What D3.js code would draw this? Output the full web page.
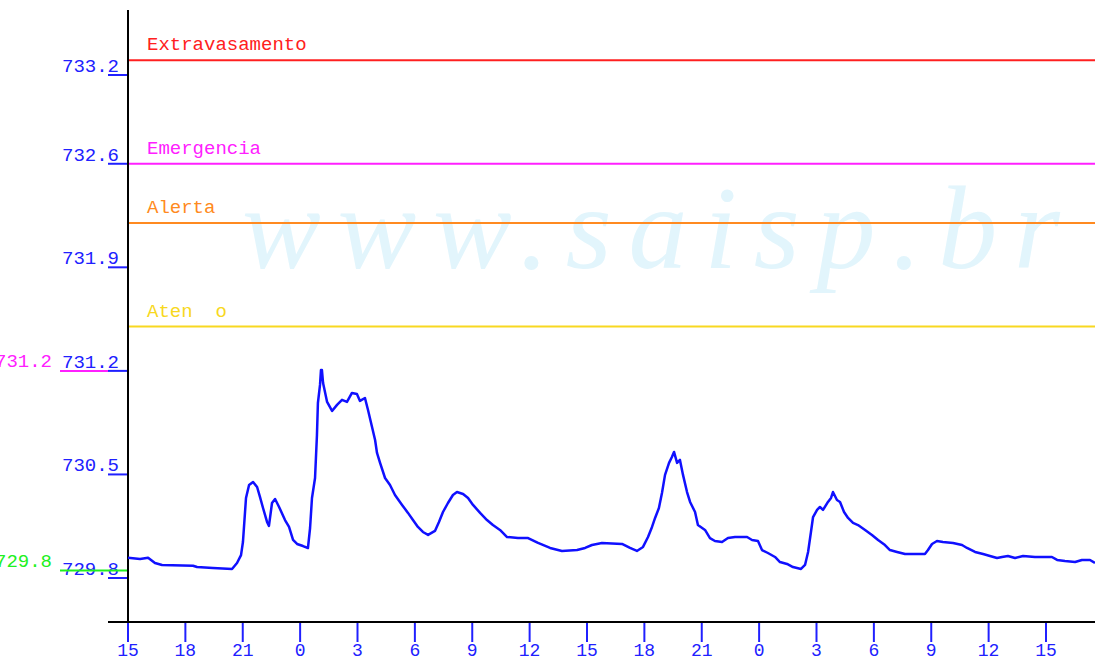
<!DOCTYPE html>
<html>
<head>
<meta charset="utf-8">
<script src="https://cdn.jsdelivr.net/npm/d3@7"></script>
<style>
  html, body { margin: 0; padding: 0; background: #fff; overflow: hidden; }
  text { font-family: "Liberation Mono", "DejaVu Sans Mono", monospace; }
</style>
</head>
<body>
<div id="chart"></div>
<script>
// hours since 15:00 of the first day, and water level (m)
const hours = [0, 0.63, 1.05, 1.41, 1.78, 3.40, 3.61, 4.44, 5.44, 5.70, 5.91, 6.01, 6.17, 6.33, 6.54, 6.75, 6.90, 7.06, 7.27, 7.37,
  7.53, 7.69, 7.90, 8.21, 8.42, 8.63, 8.84, 9.15, 9.41, 9.52, 9.62, 9.78, 9.88, 9.93, 10.04, 10.09, 10.14, 10.20, 10.41, 10.67,
  10.93, 11.19, 11.45, 11.71, 11.97, 12.13, 12.39, 12.55, 12.76, 12.92, 13.02, 13.18, 13.44, 13.70, 13.96, 14.33, 14.64, 14.90, 15.16, 15.42,
  15.69, 16.05, 16.26, 16.47, 16.73, 16.99, 17.20, 17.52, 17.78, 18.04, 18.41, 18.77, 19.08, 19.45, 19.82, 20.39, 20.92, 21.44, 22.07, 22.69,
  23.48, 23.90, 24.26, 24.78, 25.83, 26.25, 26.61, 26.93, 27.19, 27.40, 27.56, 27.76, 27.92, 28.08, 28.29, 28.44, 28.55, 28.71, 28.86, 29.02,
  29.23, 29.39, 29.65, 29.80, 30.17, 30.43, 30.69, 31.06, 31.37, 31.74, 32.37, 32.63, 32.94, 33.15, 33.46, 33.83, 34.09, 34.46, 34.77, 35.19,
  35.40, 35.56, 35.71, 35.82, 36.03, 36.18, 36.34, 36.60, 36.76, 36.86, 37.07, 37.23, 37.44, 37.65, 37.91, 38.17, 38.54, 38.90, 39.22, 39.58,
  39.84, 40.21, 40.63, 41.67, 41.83, 42.04, 42.30, 42.61, 43.14, 43.61, 43.87, 44.29, 44.71, 45.07, 45.44, 45.70, 46.01, 46.38, 46.80, 47.42,
  48.31, 48.58, 48.99, 49.52, 49.88, 50.30, 50.56];
const level = [729.937, 729.928, 729.937, 729.901, 729.888, 729.883, 729.874, 729.868, 729.861, 729.901, 729.955, 730.043, 730.341, 730.429, 730.449, 730.415, 730.348, 730.273, 730.179, 730.152,
  730.307, 730.334, 730.280, 730.192, 730.145, 730.057, 730.030, 730.016, 730.003, 730.138, 730.341, 730.476, 730.767, 730.983, 731.105, 731.206, 731.206, 731.118, 730.990, 730.929,
  730.970, 731.004, 730.990, 731.051, 731.044, 730.997, 731.017, 730.936, 730.821, 730.733, 730.645, 730.578, 730.476, 730.429, 730.361, 730.294, 730.240, 730.192, 730.145, 730.111,
  730.091, 730.118, 730.179, 730.246, 730.307, 730.361, 730.381, 730.368, 730.341, 730.294, 730.240, 730.192, 730.158, 730.125, 730.077, 730.070, 730.070, 730.037, 730.003, 729.983,
  729.989, 730.003, 730.023, 730.037, 730.030, 730.003, 729.983, 730.010, 730.077, 730.145, 730.206, 730.273, 730.375, 730.497, 730.578, 730.618, 730.652, 730.578, 730.598, 730.497,
  730.381, 730.314, 730.246, 730.158, 730.125, 730.070, 730.050, 730.043, 730.070, 730.077, 730.077, 730.057, 730.050, 729.989, 729.969, 729.942, 729.908, 729.895, 729.874, 729.861,
  729.888, 729.976, 730.111, 730.212, 730.260, 730.280, 730.260, 730.314, 730.341, 730.381, 730.327, 730.314, 730.246, 730.206, 730.172, 730.158, 730.125, 730.091, 730.057, 730.023,
  729.989, 729.976, 729.962, 729.962, 729.989, 730.030, 730.050, 730.043, 730.037, 730.023, 730.003, 729.976, 729.962, 729.949, 729.935, 729.942, 729.949, 729.935, 729.949, 729.942,
  729.942, 729.922, 729.915, 729.908, 729.922, 729.922, 729.901];

const xTickHours = [0, 3, 6, 9, 12, 15, 18, 21, 24, 27, 30, 33, 36, 39, 42, 45, 48];
const xTickLabels = ["15", "18", "21", "0", "3", "6", "9", "12", "15", "18", "21", "0", "3", "6", "9", "12", "15"];
const yTicks = [729.8, 730.5, 731.2, 731.9, 732.6, 733.2];

const thresholdNames = ["Extravasamento", "Emergencia", "Alerta", "Aten  o"];
const thresholdValues = [733.3, 732.6, 732.2, 731.5];
const thresholdColors = ["#ff2020", "#ff20ff", "#ff8a20", "#f8d820"];

// max / min markers on the left
const markerValues = [731.2, 729.85];
const markerLabels = ["731.2", "729.8"];
const markerColors = ["#ff20ff", "#20f020"];

const width = 1095;
const height = 662;
const blue = "#2020ff";

const x = d3.scaleLinear().domain([0, 48]).range([128, 1046]);
const y = d3.scaleLinear().domain([729.8, 733.2]).range([578, 75]);

const svg = d3.select("#chart")
  .append("svg")
  .attr("width", width)
  .attr("height", height);

// watermark
svg.append("text")
  .attr("x", 242)
  .attr("y", 268)
  .attr("textLength", 818)
  .attr("lengthAdjust", "spacing")
  .style("font-family", "'Liberation Serif', 'DejaVu Serif', serif")
  .style("font-style", "italic")
  .style("font-size", "118px")
  .style("fill", "#e2f5fc")
  .text("www.saisp.br");

// threshold lines + labels
const th = svg.selectAll(".threshold")
  .data(thresholdValues)
  .enter().append("g")
  .attr("class", "threshold");

th.append("line")
  .attr("x1", x(0))
  .attr("x2", width)
  .attr("y1", d => y(d))
  .attr("y2", d => y(d))
  .attr("stroke", (d, i) => thresholdColors[i])
  .attr("stroke-width", 2);

th.append("text")
  .attr("x", 147)
  .attr("y", d => y(d) - 10)
  .style("font-size", "19px")
  .style("white-space", "pre")
  .attr("xml:space", "preserve")
  .style("fill", (d, i) => thresholdColors[i])
  .text((d, i) => thresholdNames[i]);

// y ticks
const yt = svg.selectAll(".ytick")
  .data(yTicks)
  .enter().append("g")
  .attr("class", "ytick");

yt.append("line")
  .attr("x1", 108)
  .attr("x2", 128)
  .attr("y1", d => y(d))
  .attr("y2", d => y(d))
  .attr("stroke", blue)
  .attr("stroke-width", 2);

yt.append("text")
  .attr("x", 119)
  .attr("y", d => y(d) - 3)
  .attr("text-anchor", "end")
  .style("font-size", "19px")
  .style("fill", blue)
  .text(d => d.toFixed(1));

// max / min markers (labels run off the left edge, as in the source)
const mk = svg.selectAll(".marker")
  .data(markerValues)
  .enter().append("g")
  .attr("class", "marker");

mk.append("line")
  .attr("x1", 60)
  .attr("x2", (d, i) => i === 0 ? 108 : 128)
  .attr("y1", d => y(d))
  .attr("y2", d => y(d))
  .attr("stroke", (d, i) => markerColors[i])
  .attr("stroke-width", 2);

mk.append("text")
  .attr("x", 52)
  .attr("y", d => y(d) - 4)
  .attr("text-anchor", "end")
  .style("font-size", "19px")
  .style("fill", (d, i) => markerColors[i])
  .text((d, i) => markerLabels[i]);

// axes
svg.append("line")
  .attr("x1", 128).attr("x2", 128)
  .attr("y1", 10).attr("y2", 622)
  .attr("stroke", "#000")
  .attr("stroke-width", 2);

svg.append("line")
  .attr("x1", 108).attr("x2", width)
  .attr("y1", 622).attr("y2", 622)
  .attr("stroke", "#000")
  .attr("stroke-width", 2);

const xt = svg.selectAll(".xtick")
  .data(xTickHours)
  .enter().append("g")
  .attr("class", "xtick");

xt.append("line")
  .attr("x1", d => x(d))
  .attr("x2", d => x(d))
  .attr("y1", 623)
  .attr("y2", 642)
  .attr("stroke", blue)
  .attr("stroke-width", 2);

xt.append("text")
  .attr("x", d => x(d))
  .attr("y", 656)
  .attr("text-anchor", "middle")
  .style("font-size", "18px")
  .style("fill", blue)
  .text((d, i) => xTickLabels[i]);

// level series
const line = d3.line()
  .x(d => x(d[0]))
  .y(d => y(d[1]));

svg.append("path")
  .datum(hours.map((h, i) => [h, level[i]]))
  .attr("d", line)
  .attr("fill", "none")
  .attr("stroke", "#1010ff")
  .attr("stroke-width", 2.5)
  .attr("stroke-linejoin", "round");
</script>
</body>
</html>
